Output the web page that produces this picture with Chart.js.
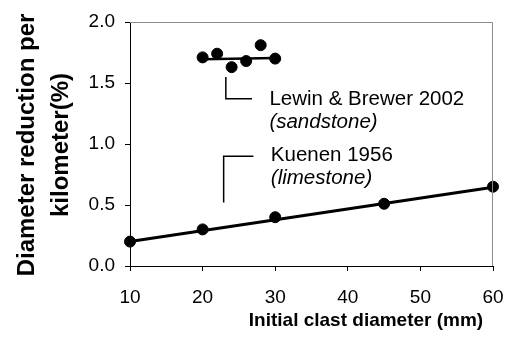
<!DOCTYPE html>
<html lang="en">
<head>
    <meta charset="UTF-8">
    <title>Diameter reduction per kilometer</title>
    <script src="https://cdn.jsdelivr.net/npm/chart.js"></script>
    <style>
        body { margin: 0; background: #fff; }
        canvas { display: block; }
    </style>
</head>
<body>
    <canvas id="abrasionChart" width="513" height="352"></canvas>

    <script>
        // Kuenen 1956 (limestone)
        const kuenenDiameter = [10, 20, 30, 45, 60];
        const kuenenReduction = [0.20, 0.30, 0.40, 0.51, 0.65];
        const kuenenTrendDiameter = [10, 60];
        const kuenenTrendReduction = [0.20, 0.645];

        // Lewin & Brewer 2002 (sandstone)
        const lewinDiameter = [20, 22, 24, 26, 28, 30];
        const lewinReduction = [1.71, 1.74, 1.63, 1.68, 1.81, 1.70];
        const lewinTrendDiameter = [20, 30];
        const lewinTrendReduction = [1.695, 1.705];

        const xTicks = [10, 20, 30, 40, 50, 60];
        const yTicks = [0.0, 0.5, 1.0, 1.5, 2.0];

        const FONT = "'Liberation Sans', Arial, sans-serif";

        const toPoints = (xs, ys) => xs.map((x, i) => ({ x: x, y: ys[i] }));

        // top/right frame, axis titles and the two leader-line labels
        const decorations = {
            id: 'decorations',
            afterDatasetsDraw(chart) {
                const ctx = chart.ctx;
                const a = chart.chartArea;
                const xs = chart.scales.x;
                const ys = chart.scales.y;
                ctx.save();

                ctx.strokeStyle = '#8c8c8c';
                ctx.lineWidth = 1;
                ctx.beginPath();
                ctx.moveTo(a.left, a.top + 0.5);
                ctx.lineTo(a.right - 0.5, a.top + 0.5);
                ctx.lineTo(a.right - 0.5, a.bottom);
                ctx.stroke();

                ctx.fillStyle = '#000';
                ctx.font = 'bold 19px ' + FONT;
                ctx.textAlign = 'center';
                ctx.textBaseline = 'middle';
                ctx.fillText('Initial clast diameter (mm)', 366, 321);

                ctx.save();
                ctx.translate(0, 145);
                ctx.rotate(-Math.PI / 2);
                ctx.font = 'bold 24px ' + FONT;
                ctx.fillText('Diameter reduction per', 0, 27);
                ctx.fillText('kilometer(%)', 0, 61);
                ctx.restore();

                // leader lines
                ctx.strokeStyle = '#000';
                ctx.lineWidth = 1.5;
                ctx.beginPath();
                ctx.moveTo(xs.getPixelForValue(23.2), ys.getPixelForValue(1.55));
                ctx.lineTo(xs.getPixelForValue(23.2), ys.getPixelForValue(1.37));
                ctx.lineTo(xs.getPixelForValue(26.8), ys.getPixelForValue(1.37));
                ctx.stroke();

                ctx.beginPath();
                ctx.moveTo(xs.getPixelForValue(27.0), ys.getPixelForValue(0.90));
                ctx.lineTo(xs.getPixelForValue(22.9), ys.getPixelForValue(0.90));
                ctx.lineTo(xs.getPixelForValue(22.9), ys.getPixelForValue(0.52));
                ctx.stroke();

                ctx.textAlign = 'left';
                ctx.font = '20.5px ' + FONT;
                ctx.fillText('Lewin & Brewer 2002', xs.getPixelForValue(29.2), ys.getPixelForValue(1.37));
                ctx.fillText('Kuenen 1956', xs.getPixelForValue(29.4), ys.getPixelForValue(0.905));
                ctx.font = 'italic 20.5px ' + FONT;
                ctx.fillText('(sandstone)', xs.getPixelForValue(29.2), ys.getPixelForValue(1.18));
                ctx.fillText('(limestone)', xs.getPixelForValue(29.4), ys.getPixelForValue(0.72));

                ctx.restore();
            }
        };

        const ctx = document.getElementById('abrasionChart').getContext('2d');
        new Chart(ctx, {
            type: 'scatter',
            data: {
                datasets: [
                    {
                        label: 'Kuenen 1956 trend',
                        data: toPoints(kuenenTrendDiameter, kuenenTrendReduction),
                        showLine: true,
                        borderColor: '#000',
                        borderWidth: 3,
                        pointRadius: 0,
                        clip: false
                    },
                    {
                        label: 'Lewin & Brewer 2002 trend',
                        data: toPoints(lewinTrendDiameter, lewinTrendReduction),
                        showLine: true,
                        borderColor: '#000',
                        borderWidth: 2.5,
                        pointRadius: 0,
                        clip: false
                    },
                    {
                        label: 'Kuenen 1956',
                        data: toPoints(kuenenDiameter, kuenenReduction),
                        backgroundColor: '#000',
                        borderColor: '#000',
                        pointRadius: 5.5,
                        clip: false
                    },
                    {
                        label: 'Lewin & Brewer 2002',
                        data: toPoints(lewinDiameter, lewinReduction),
                        backgroundColor: '#000',
                        borderColor: '#000',
                        pointRadius: 5.5,
                        clip: false
                    }
                ]
            },
            options: {
                responsive: false,
                animation: false,
                devicePixelRatio: 1,
                layout: { padding: { top: 22, right: 20, left: 0, bottom: 0 } },
                plugins: {
                    legend: { display: false },
                    tooltip: { enabled: false }
                },
                scales: {
                    x: {
                        type: 'linear',
                        min: 10,
                        max: 60,
                        afterFit: s => {
                            s.height = 86;
                            s.paddingLeft = 0;
                            s.paddingRight = 0;
                        },
                        afterBuildTicks: s => { s.ticks = xTicks.map(v => ({ value: v })); },
                        grid: { drawOnChartArea: false, tickLength: 5, color: '#000' },
                        border: { color: '#000', width: 1 },
                        ticks: {
                            padding: 15,
                            color: '#000',
                            font: { family: FONT, size: 19 }
                        }
                    },
                    y: {
                        min: 0,
                        max: 2,
                        afterFit: s => {
                            s.width = 130;
                            s.paddingTop = 0;
                            s.paddingBottom = 0;
                        },
                        afterBuildTicks: s => { s.ticks = yTicks.map(v => ({ value: v })); },
                        grid: { drawOnChartArea: false, tickLength: 5, color: '#000' },
                        border: { color: '#000', width: 1 },
                        ticks: {
                            padding: 10,
                            color: '#000',
                            font: { family: FONT, size: 19 },
                            callback: v => v.toFixed(1)
                        }
                    }
                }
            },
            plugins: [decorations]
        });
    </script>
</body>
</html>
